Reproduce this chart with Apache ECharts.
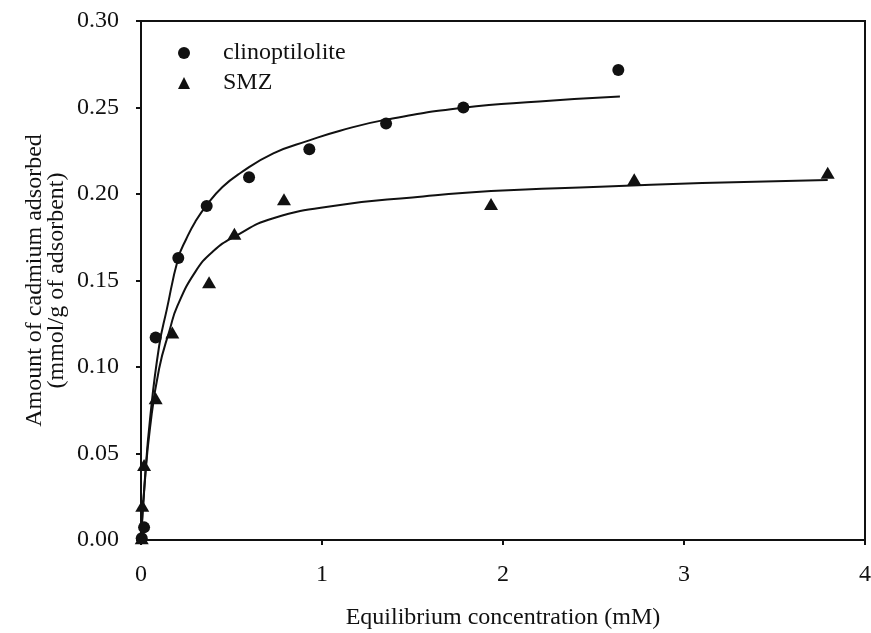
<!DOCTYPE html>
<html>
<head>
<meta charset="utf-8">
<script src="https://cdn.jsdelivr.net/npm/echarts@6/dist/echarts.min.js"></script>
<style>
  html, body { margin: 0; padding: 0; background: #fff; }
  #chart { width: 871px; height: 633px; }
</style>
</head>
<body>
<div id="chart"></div>
<script>
// measured points
var clinoX = [0.004, 0.017, 0.081, 0.206, 0.363, 0.597, 0.93, 1.354, 1.781, 2.637];
var clinoY = [0.001, 0.0073, 0.117, 0.163, 0.193, 0.2097, 0.2258, 0.2408, 0.250, 0.2717];
var smzX = [0.004, 0.007, 0.017, 0.081, 0.173, 0.376, 0.516, 0.79, 1.934, 2.725, 3.794];
var smzY = [0.001, 0.0198, 0.0434, 0.082, 0.120, 0.149, 0.177, 0.197, 0.1942, 0.2085, 0.2123];

// fitted curves
var clinoFitX = [0, 0.02, 0.05, 0.1, 0.142, 0.206, 0.25, 0.3, 0.363, 0.45, 0.547, 0.731, 0.93, 1.1, 1.354, 1.78, 2.2, 2.646];
var clinoFitY = [0, 0.033, 0.070, 0.112, 0.133, 0.163, 0.174, 0.184, 0.1936, 0.204, 0.212, 0.2235, 0.231, 0.2366, 0.243, 0.2499, 0.2535, 0.2563];
var smzFitX = [0, 0.02, 0.05, 0.1, 0.16, 0.2, 0.3, 0.4, 0.516, 0.731, 1.1, 1.5, 1.934, 2.536, 3.1, 3.794];
var smzFitY = [0, 0.032, 0.065, 0.099, 0.122, 0.135, 0.155, 0.167, 0.1753, 0.186, 0.1936, 0.198, 0.2017, 0.2042, 0.2063, 0.2081];

function pairs(xs, ys) {
    return xs.map(function (x, i) { return [x, ys[i]]; });
}

var font = "'Liberation Serif', 'Times New Roman', serif";
var ink = '#111';

var myChart = echarts.init(document.getElementById('chart'));

var option = {
    backgroundColor: '#fff',
    animation: false,
    grid: {
        left: 141, right: 6, top: 21, bottom: 93,
        outerBoundsMode: 'none',
        show: true, borderColor: ink, borderWidth: 2
    },
    legend: {
        data: ['clinoptilolite', 'SMZ'],
        orient: 'vertical',
        left: 173,
        top: 36,
        itemWidth: 12,
        itemHeight: 12,
        itemGap: 6,
        textStyle: { fontFamily: font, fontSize: 24, color: ink, padding: [0, 0, 0, 28] }
    },
    xAxis: {
        type: 'value',
        min: 0, max: 4, interval: 1,
        name: 'Equilibrium concentration (mM)',
        nameLocation: 'middle',
        nameGap: 66,
        nameMoveOverlap: false,
        nameTextStyle: { fontFamily: font, fontSize: 24, color: ink },
        axisLine: { lineStyle: { color: ink, width: 2 } },
        axisTick: { show: true, inside: false, length: 5, lineStyle: { color: ink, width: 2 } },
        axisLabel: { fontFamily: font, fontSize: 24, color: ink, margin: 23 },
        splitLine: { show: false }
    },
    yAxis: {
        type: 'value',
        min: 0, max: 0.3, interval: 0.05,
        name: 'Amount of cadmium adsorbed\n(mmol/g of adsorbent)',
        nameLocation: 'middle',
        nameGap: 73,
        nameMoveOverlap: false,
        nameTextStyle: { fontFamily: font, fontSize: 24, color: ink, lineHeight: 22 },
        axisLine: { lineStyle: { color: ink, width: 2 } },
        axisTick: { show: true, inside: false, length: 5, lineStyle: { color: ink, width: 2 } },
        axisLabel: {
            fontFamily: font, fontSize: 24, color: ink, margin: 22,
            formatter: function (v) { return v.toFixed(2); }
        },
        splitLine: { show: false }
    },
    series: [
        {
            name: 'clinoptilolite fit',
            type: 'line',
            data: pairs(clinoFitX, clinoFitY),
            smooth: true,
            showSymbol: false,
            lineStyle: { color: ink, width: 2 },
            z: 2
        },
        {
            name: 'SMZ fit',
            type: 'line',
            data: pairs(smzFitX, smzFitY),
            smooth: true,
            showSymbol: false,
            lineStyle: { color: ink, width: 2 },
            z: 2
        },
        {
            name: 'clinoptilolite',
            type: 'scatter',
            data: pairs(clinoX, clinoY),
            symbol: 'circle',
            symbolSize: 12,
            itemStyle: { color: ink, opacity: 1 },
            clip: false,
            z: 3
        },
        {
            name: 'SMZ',
            type: 'scatter',
            data: pairs(smzX, smzY),
            symbol: 'triangle',
            symbolSize: [14, 12],
            itemStyle: { color: ink, opacity: 1 },
            clip: false,
            z: 3
        }
    ]
};

myChart.setOption(option);
</script>
</body>
</html>
